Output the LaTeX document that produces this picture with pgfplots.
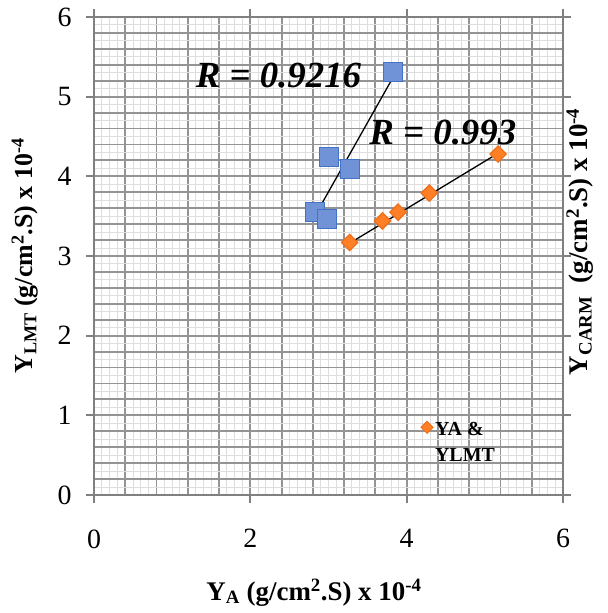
\documentclass[border=0pt]{standalone}
\usepackage{pgfplots}
\pgfplotsset{compat=1.18}
\usepackage{fontspec}
\setmainfont{Liberation Serif}
\definecolor{bfill}{RGB}{112,146,214}
\definecolor{bedge}{RGB}{68,114,196}
\definecolor{ofill}{RGB}{255,127,39}
\definecolor{oedge}{RGB}{240,110,25}
\begin{document}
\begin{tikzpicture}
\useasboundingbox (-94bp,-118bp) rectangle (514bp,495bp);
\begin{axis}[
  scale only axis, width=469bp, height=478bp,
  xmin=0, xmax=6, ymin=0, ymax=6,
  xtick={0,0.4,0.8,1.2,1.6,2,2.4,2.8,3.2,3.6,4,4.4,4.8,5.2,5.6,6},
  xticklabels={0,,,,,2,,,,,4,,,,,6},
  ytick={0,0.2,0.4,0.6,0.8,1,1.2,1.4,1.6,1.8,2,2.2,2.4,2.6,2.8,3,3.2,3.4,3.6,3.8,4,4.2,4.4,4.6,4.8,5,5.2,5.4,5.6,5.8,6},
  yticklabels={0,,,,,1,,,,,2,,,,,3,,,,,4,,,,,5,,,,,6},
  minor xtick={0.1,0.2,0.3,0.5,0.6,0.7,0.9,1.0,1.1,1.3,1.4,1.5,1.7,1.8,1.9,2.1,2.2,2.3,2.5,2.6,2.7,2.9,3.0,3.1,3.3,3.4,3.5,3.7,3.8,3.9,4.1,4.2,4.3,4.5,4.6,4.7,4.9,5.0,5.1,5.3,5.4,5.5,5.7,5.8,5.9},
  minor ytick={0.1,0.3,0.5,0.7,0.9,1.1,1.3,1.5,1.7,1.9,2.1,2.3,2.5,2.7,2.9,3.1,3.3,3.5,3.7,3.9,4.1,4.3,4.5,4.7,4.9,5.1,5.3,5.5,5.7,5.9},
  major tick length=0pt, minor tick length=0pt,
  xmajorgrids, ymajorgrids, xminorgrids, yminorgrids,
  major grid style={draw=black!42, line width=1.9bp},
  minor grid style={draw=black!13, line width=1bp},
  extra x ticks={0,2,4,6}, extra y ticks={0,1,2,3,4,5,6},
  extra x tick labels={}, extra y tick labels={},
  extra tick style={xmajorgrids=false, ymajorgrids=false, major tick length=8bp, tick align=outside,
    tick style={draw=black!50, line width=1.9bp}},
  axis line style={draw=black!50, line width=1.9bp},
  /pgf/number format/assume math mode=true,
  ticklabel style={font=\fontsize{28}{32}\selectfont},
  xticklabel style={yshift=-31bp},
  yticklabel style={xshift=-19bp},
  legend style={at={(axis cs:4.18,1.0)}, anchor=north west, draw=none, fill=none,
    font=\fontsize{20}{26}\selectfont\bfseries, inner sep=0pt,
    /tikz/every even column/.append style={column sep=2bp}},
  legend cell align=left,
  clip=false,
]
\addplot[only marks, mark=square*, mark size=9.5bp,
  mark options={fill=bfill, draw=bedge, line width=1.2pt}, forget plot]
  coordinates {(3.83,5.31) (3.01,4.24) (3.28,4.09) (2.83,3.55) (2.98,3.46)};
\addplot[black, line width=1.3pt, forget plot] coordinates {(2.83,3.51) (3.83,5.25)};
\addplot[only marks, mark=square*, mark size=5.8bp,
  mark options={rotate=45, fill=ofill, draw=oedge, line width=1.2pt}, forget plot]
  coordinates {(3.27,3.17) (3.69,3.44) (3.89,3.55) (4.29,3.79) (5.17,4.28)};
\addlegendimage{only marks, mark=square*, mark size=4.3bp, mark options={rotate=45, fill=ofill, draw=oedge, line width=0.8pt}}
\addlegendentry{\begin{tabular}[t]{@{}l@{}}YA \&\\YLMT\end{tabular}}
\addplot[black, line width=1.3pt, forget plot] coordinates {(3.27,3.16) (5.17,4.29)};
\node[anchor=west, font=\fontsize{37}{40}\selectfont\bfseries\itshape, inner sep=0pt] at (axis cs:1.3,5.27) {R = 0.9216};
\node[anchor=west, font=\fontsize{37}{40}\selectfont\bfseries\itshape, inner sep=0pt] at (axis cs:3.52,4.55) {R = 0.993};
\node[anchor=base, font=\fontsize{27}{30}\selectfont\bfseries, inner sep=0pt] at ([yshift=-105bp]rel axis cs:0.469,0) {Y\textsubscript{A} (g/cm\textsuperscript{2}.S) x 10\textsuperscript{-4}};
\node[rotate=90, font=\fontsize{26}{30}\selectfont\bfseries, inner sep=0pt] at ([xshift=-69bp]rel axis cs:0,0.5) {Y\textsubscript{LMT} (g/cm\textsuperscript{2}.S) x 10\textsuperscript{-4}};
\node[rotate=90, font=\fontsize{27}{30}\selectfont\bfseries, inner sep=0pt] at ([xshift=17bp]rel axis cs:1,0.53) {Y\textsubscript{CARM}\ \ (g/cm\textsuperscript{2}.S) x 10\textsuperscript{-4}};
\end{axis}
\end{tikzpicture}
\end{document}
